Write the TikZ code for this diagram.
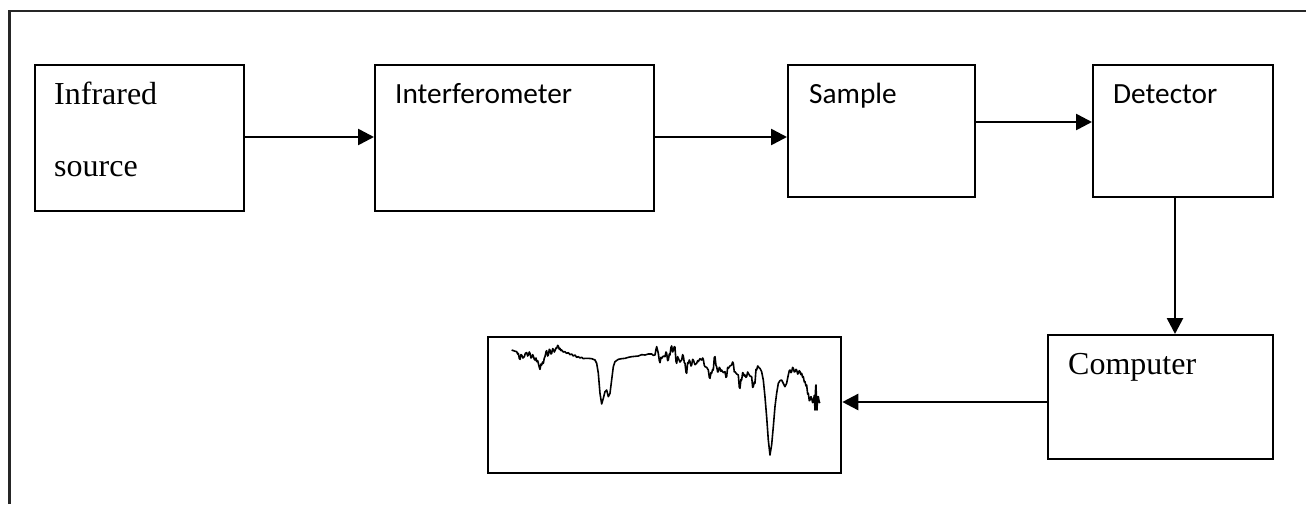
\documentclass[tikz,border=0pt]{standalone}
\usepackage{fontspec}
\setmainfont{Liberation Serif}
\newfontfamily\calfont{Carlito}
\usetikzlibrary{arrows.meta}
\tikzset{
  blk/.style={draw, line width=2.3pt, rectangle, inner sep=0pt, anchor=north west},
  conn/.style={line width=2.6pt, -{Triangle[length=16pt,width=16pt]}},
  tms/.style={anchor=base west, inner sep=0pt, font=\fontsize{32}{36}\selectfont},
  clb/.style={anchor=base west, inner sep=0pt, font=\calfont\fontsize{29.3}{34}\selectfont},
}
\begin{document}
\begin{tikzpicture}[x=1pt,y=-1pt]
\useasboundingbox (0,0) rectangle (1306,504);
% outer frame (cropped)
\draw[line width=2.6pt, color=black!85] (9.5,504) -- (9.5,11) -- (1306,11);
% boxes
\node[blk, minimum width=209pt, minimum height=146pt] (src) at (34,64) {};
\node[blk, minimum width=279pt, minimum height=146pt] (intf) at (374,64) {};
\node[blk, minimum width=187pt, minimum height=132pt] (samp) at (787,64) {};
\node[blk, minimum width=180pt, minimum height=132pt] (det) at (1092,64) {};
\node[blk, minimum width=225pt, minimum height=124pt] (comp) at (1047,334) {};
\node[blk, minimum width=353pt, minimum height=136pt] (spec) at (487,336) {};
% texts
\node[tms] (t1) at (54,104) {Infrared};
\node[tms] (t2) at (54,176) {source};
\node[clb] (t3) at (395,103) {Interferometer};
\node[clb] (t4) at (809,103) {Sample};
\node[clb] (t5) at (1113,103) {Detector};
\node[tms] (t6) at (1068,374) {Computer};
% connectors
\draw[conn] (src.east |- 0,137) -- (intf.west |- 0,137);
\draw[conn] (intf.east |- 0,137) -- (samp.west |- 0,137);
\draw[conn] (samp.east |- 0,122) -- (det.west |- 0,122);
\draw[conn] (det.south -| 1175,0) -- (comp.north -| 1175,0);
\draw[conn] (comp.west |- 0,402) -- (spec.east |- 0,402);
% spectrum trace
\begin{scope}[shift={(485,330)}, x=0.3333pt, y=-0.3333pt]
\draw[line width=1.6pt, line join=round] plot coordinates {
(80,60)(88,63)(95,65)(98,72)(100,70)(103,86)(105,88)(108,74)(110,75)(114,84)(118,80)(121,70)(125,68)(128,78)(130,75)(133,66)(135,70)(138,84)(140,82)(143,74)(145,78)(148,88)(150,90)(153,84)(155,95)(158,92)(160,100)(163,112)(165,118)(168,102)(170,105)(173,96)(175,100)(178,84)(180,80)(183,66)(185,62)(188,78)(190,75)(193,58)(195,60)(198,72)(200,70)(203,56)(205,58)(208,66)(210,62)(213,54)(215,55)(218,46)(220,48)(223,58)(225,55)(228,62)(230,60)(235,66)(240,65)(245,70)(250,68)(255,74)(260,72)(265,78)(270,75)(275,82)(280,80)(285,84)(290,82)(295,86)(300,85)(310,85)(320,86)(330,90)(335,100)(340,130)(345,190)(350,222)(355,205)(360,185)(365,180)(370,200)(375,190)(380,150)(385,110)(390,95)(400,88)(410,86)(420,85)(430,82)(440,80)(450,79)(460,78)(470,74)(480,75)(490,72)(500,72)(505,76)(510,75)(513,58)(515,50)(518,62)(520,70)(523,92)(525,98)(528,82)(530,85)(535,78)(540,80)(543,66)(545,70)(548,92)(550,90)(553,72)(555,75)(558,52)(560,48)(563,66)(565,60)(568,50)(570,52)(573,94)(575,100)(578,80)(580,85)(585,96)(590,90)(593,74)(595,78)(598,98)(600,100)(603,126)(605,130)(608,98)(610,100)(613,90)(615,95)(618,108)(620,105)(623,88)(625,90)(630,104)(635,100)(638,92)(640,95)(645,86)(650,90)(653,84)(655,88)(658,106)(660,110)(665,112)(670,120)(673,142)(675,145)(678,128)(680,130)(683,118)(685,120)(688,82)(690,80)(693,106)(695,110)(698,126)(700,125)(703,112)(705,115)(708,124)(710,120)(715,128)(720,125)(723,142)(725,140)(728,112)(730,115)(735,108)(740,105)(743,96)(745,100)(748,126)(750,125)(755,132)(760,135)(763,172)(765,175)(768,148)(770,150)(773,128)(775,130)(778,138)(780,135)(783,142)(785,140)(788,126)(790,130)(795,138)(800,140)(803,172)(805,170)(808,156)(810,160)(813,118)(815,120)(818,108)(820,110)(823,114)(825,115)(830,125)(835,150)(840,200)(845,260)(850,330)(855,375)(860,345)(865,290)(870,230)(875,190)(880,160)(885,152)(890,150)(895,160)(900,170)(905,160)(910,135)(913,122)(915,120)(918,128)(920,125)(923,112)(925,115)(928,126)(930,125)(933,118)(935,120)(938,132)(940,130)(943,122)(945,125)(948,134)(950,130)(953,142)(955,140)(958,156)(960,155)(963,168)(965,165)(968,192)(970,190)(973,212)(975,210)(978,200)(980,205)(983,218)(985,215)(988,196)(990,240)(992,170)(993,165)(995,220)(996,240)(998,200)(1000,200)(1003,218)(1005,215)
};
\end{scope}
\end{tikzpicture}
\end{document}
